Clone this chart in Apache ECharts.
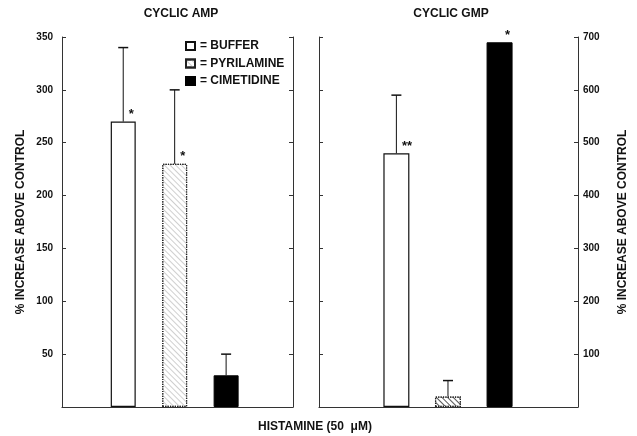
<!DOCTYPE html>
<html><head><meta charset="utf-8">
<script src="https://cdn.jsdelivr.net/npm/echarts@6/dist/echarts.min.js"></script>
<style>html,body{margin:0;padding:0;background:#fff}#c{width:637px;height:436px}</style>
</head><body><div id="c"></div>
<script>
const treatments = ['BUFFER', 'PYRILAMINE', 'CIMETIDINE'];
const campMeans = [270, 230, 30];
const campErrors = [70, 70, 20];
const campStars = ['*', '*', ''];
const cgmpMeans = [480, 20, 690];
const cgmpErrors = [110, 30, 0];
const cgmpStars = ['**', '', '*'];
const campAxis = { max: 350, interval: 50 };
const cgmpAxis = { max: 700, interval: 100 };
const panelTitles = ['CYCLIC AMP', 'CYCLIC GMP'];
const yName = '% INCREASE ABOVE CONTROL';
const xName = 'HISTAMINE (50  \u03bcM)';

const FONT = 'Liberation Sans';
const INK = '#111';
const AX = '#333';

function barStyles(hatchColor) {
  return [
    { color: '#fff', borderColor: '#111', borderWidth: 1.2 },
    { color: '#fff', borderColor: '#222', borderWidth: 1.2, borderType: 'dotted',
      decal: { symbol: 'rect', symbolSize: 1, dashArrayX: [1, 0], dashArrayY: [1, 3], rotation: Math.PI / 4, color: hatchColor } },
    { color: '#000', borderColor: '#000', borderWidth: 1 }
  ];
}
const leftStyles = barStyles('#cfcfcf');
const rightStyles = barStyles('#555');

function yAx(grid, pos, cfg, labels, name, gap) {
  return {
    type: 'value', gridIndex: grid, position: pos, min: 0, max: cfg.max, interval: cfg.interval,
    axisLine: { show: true, onZero: false, lineStyle: { color: AX, width: 1 } },
    axisTick: { show: true, inside: true, length: 4, lineStyle: { color: AX } },
    splitLine: { show: false },
    axisLabel: { show: labels, margin: pos === 'left' ? 9 : 5, color: INK, fontFamily: FONT, fontSize: 10, fontWeight: 'bold',
      formatter: v => (v === 0 ? '' : String(v)) },
    name: name || '', nameLocation: 'middle', nameGap: gap || 0, nameRotate: 90,
    nameTextStyle: { color: INK, fontFamily: FONT, fontSize: 12, fontWeight: 'bold' }
  };
}
function xAx(grid, min, max) {
  return {
    type: 'value', gridIndex: grid, min: min, max: max,
    axisLine: { show: true, onZero: false, lineStyle: { color: AX, width: 1.2 } },
    axisTick: { show: false }, axisLabel: { show: false }, splitLine: { show: false }
  };
}
function errRender(stars) {
  return function (params, api) {
    const x = api.value(0), v = api.value(1), e = api.value(2);
    const base = api.coord([x, v]);
    const children = [];
    if (e > 0) {
      const top = api.coord([x, v + e]);
      children.push({ type: 'line', shape: { x1: base[0], y1: base[1], x2: top[0], y2: top[1] }, style: { stroke: INK, lineWidth: 1 } });
      children.push({ type: 'line', shape: { x1: top[0] - 5, y1: top[1], x2: top[0] + 5, y2: top[1] }, style: { stroke: INK, lineWidth: 1.5 } });
    }
    const s = stars[params.dataIndex];
    if (s) children.push({ type: 'text', style: { text: s, x: base[0] + 5.5, y: base[1] - 7, fill: INK,
      font: 'bold 13px "Liberation Sans"', align: 'left', verticalAlign: 'middle' } });
    return { type: 'group', children: children };
  };
}

const series = [];
treatments.forEach((t, i) => {
  series.push({ name: t, type: 'bar', xAxisIndex: 0, yAxisIndex: 0, barWidth: 25, barGap: '-100%',
    itemStyle: leftStyles[i], data: [[i + 1, campMeans[i]]], silent: true });
});
treatments.forEach((t, i) => {
  series.push({ name: t, type: 'bar', xAxisIndex: 1, yAxisIndex: 3, barWidth: 26, barGap: '-100%',
    itemStyle: rightStyles[i], data: [[i + 1, cgmpMeans[i]]], silent: true });
});
series.push({ type: 'custom', xAxisIndex: 0, yAxisIndex: 0, renderItem: errRender(campStars), z: 5,
  data: campMeans.map((m, i) => [i + 1, m, campErrors[i]]) });
series.push({ type: 'custom', xAxisIndex: 1, yAxisIndex: 3, renderItem: errRender(cgmpStars), z: 5,
  data: cgmpMeans.map((m, i) => [i + 1, m, cgmpErrors[i]]) });

const titleStyle = { color: INK, fontFamily: FONT, fontSize: 12, fontWeight: 'bold' };
const chart = echarts.init(document.getElementById('c'), null, { renderer: 'canvas' });
chart.setOption({
  animation: false,
  backgroundColor: '#fff',
  textStyle: { fontFamily: FONT },
  title: [
    { text: panelTitles[0], left: 176, top: 3, textAlign: 'center', textStyle: titleStyle },
    { text: panelTitles[1], left: 446, top: 3, textAlign: 'center', textStyle: titleStyle },
    { text: xName, left: 310, top: 416, textAlign: 'center', textStyle: titleStyle }
  ],
  legend: {
    data: treatments, orient: 'vertical', left: 185, top: 39, padding: 0, itemWidth: 9, itemHeight: 8, itemGap: 3.5,
    icon: 'rect', formatter: '= {name}',
    textStyle: { color: INK, fontFamily: FONT, fontSize: 12, fontWeight: 'bold', lineHeight: 14 }, selectedMode: false
  },
  grid: [
    { left: 62, right: 344, top: 37, bottom: 29 },
    { left: 319, right: 59, top: 37, bottom: 29 }
  ],
  xAxis: [xAx(0, -0.19, 4.3), xAx(1, -0.5, 4.52)],
  yAxis: [
    yAx(0, 'left', campAxis, true, yName, 35),
    yAx(0, 'right', campAxis, false),
    yAx(1, 'left', cgmpAxis, false),
    yAx(1, 'right', cgmpAxis, true, yName, 39)
  ],
  series: series
});
</script></body></html>
